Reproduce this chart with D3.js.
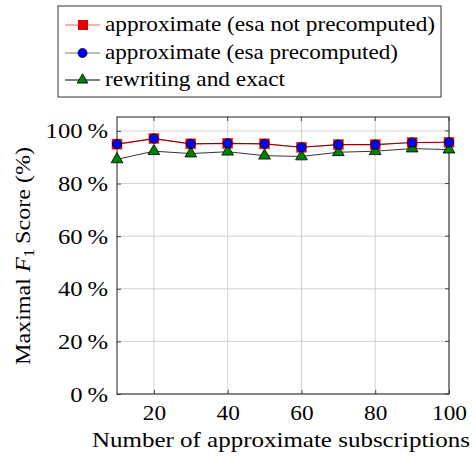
<!DOCTYPE html>
<html><head><meta charset="utf-8">
<script src="https://cdn.jsdelivr.net/npm/d3@7"></script>
<style>body{margin:0;background:#fff}svg{display:block}text{font-family:"Liberation Serif","DejaVu Serif",serif;fill:#000}</style>
</head><body><div id="c"></div>
<script>
const xs = [10,20,30,40,50,60,70,80,90,100];
const notPre = [95.0,97.1,95.1,95.3,95.1,93.8,94.8,94.8,95.6,95.7];
const pre = [95.0,97.1,95.1,95.3,95.1,93.8,94.8,94.8,95.6,95.7];
const exact = [89.2,92.3,91.4,92.1,90.6,90.3,91.9,92.3,93.3,92.9];
const xTicks = [20,40,60,80,100];
const yTicks = [0,20,40,60,80,100];
const seriesNames = ["approximate (esa not precomputed)","approximate (esa precomputed)","rewriting and exact"];

const W=476,H=458;
const FONT='"Liberation Serif",serif';
const svg=d3.select("#c").append("svg").attr("width",W).attr("height",H);
const L=117,R=449,T=117,B=394;
const x=d3.scaleLinear().domain([10,100]).range([L,R]);
const y=d3.scaleLinear().domain([0,105.3]).range([B,T]);

function stretch(sel,k){sel.each(function(){const w=this.getComputedTextLength();d3.select(this).attr("textLength",w*k).attr("lengthAdjust","spacingAndGlyphs");});}
function fitTo(sel,target){sel.each(function(){d3.select(this).attr("textLength",target).attr("lengthAdjust","spacingAndGlyphs");});}

// grid
svg.append("g").selectAll("line").data(xTicks).join("line")
 .attr("x1",d=>x(d)).attr("x2",d=>x(d)).attr("y1",T).attr("y2",B)
 .attr("stroke","#c8c8c8").attr("stroke-width",0.8);
svg.append("g").selectAll("line").data(yTicks).join("line")
 .attr("x1",L).attr("x2",R).attr("y1",d=>y(d)).attr("y2",d=>y(d))
 .attr("stroke","#c8c8c8").attr("stroke-width",0.8);

// axes
const ax=svg.append("g").attr("transform",`translate(0,${B})`).call(d3.axisBottom(x).tickValues(xTicks).tickSize(-4).tickPadding(10).tickFormat(d3.format("d")));
const ay=svg.append("g").attr("transform",`translate(${L},0)`).call(d3.axisLeft(y).tickValues(yTicks).tickSize(-4).tickPadding(9).tickFormat(d=>d+"\u2009%"));
[ax,ay].forEach(g=>{g.attr("font-family",FONT).attr("font-size",22);g.select(".domain").remove();g.selectAll("line").attr("stroke","#444");g.selectAll("text").attr("fill","#000");});
stretch(ax.selectAll("text"),1.06);
stretch(ay.selectAll("text"),1.12);
// top ticks / right ticks
svg.append("g").selectAll("line").data(xTicks).join("line").attr("x1",d=>x(d)).attr("x2",d=>x(d)).attr("y1",T).attr("y2",T+4).attr("stroke","#444");
svg.append("g").selectAll("line").data(yTicks).join("line").attr("x1",R).attr("x2",R-4).attr("y1",d=>y(d)).attr("y2",d=>y(d)).attr("stroke","#444");
svg.append("rect").attr("x",L).attr("y",T).attr("width",R-L).attr("height",B-T).attr("fill","none").attr("stroke","#333").attr("stroke-width",1.1);

const line=d3.line().x((d,i)=>x(xs[i])).y(d=>y(d));
svg.append("path").datum(notPre).attr("d",line).attr("fill","none").attr("stroke","#e00").attr("stroke-width",1.2);
svg.append("g").selectAll("rect").data(notPre).join("rect")
 .attr("x",(d,i)=>x(xs[i])-5).attr("y",d=>y(d)-5).attr("width",10).attr("height",10)
 .attr("fill","#e00000").attr("stroke","#ff3030").attr("stroke-width",0.6);
svg.append("path").datum(exact).attr("d",line).attr("fill","none").attr("stroke","#000").attr("stroke-width",0.8);
const tri=d3.symbol().type(d3.symbolTriangle).size(60);
svg.append("g").selectAll("path").data(exact).join("path")
 .attr("d",tri).attr("transform",(d,i)=>`translate(${x(xs[i])},${y(d)})`)
 .attr("fill","#008000").attr("stroke","#000").attr("stroke-width",0.8);
svg.append("path").datum(pre).attr("d",line).attr("fill","none").attr("stroke","#000").attr("stroke-width",0.6).attr("opacity",0.7);
svg.append("g").selectAll("circle").data(pre).join("circle")
 .attr("cx",(d,i)=>x(xs[i])).attr("cy",d=>y(d)).attr("r",4.6)
 .attr("fill","#0000ff").attr("stroke","#000").attr("stroke-width",0.8);

// axis titles
const xl=svg.append("text").attr("x",92).attr("y",447).attr("font-family",FONT).attr("font-size",21).text("Number of approximate subscriptions");
fitTo(xl,378);
const yl=svg.append("text").attr("transform","translate(30,365) rotate(-90)").attr("font-family",FONT).attr("font-size",21);
yl.append("tspan").text("Maximal ");
yl.append("tspan").attr("font-style","italic").text("F");
yl.append("tspan").attr("dy",4).attr("font-size",15).text("1");
yl.append("tspan").attr("dy",-4).text("\u2009Score (%)");
fitTo(yl,218);

// legend
const lg=svg.append("g");
lg.append("rect").attr("x",58).attr("y",6).attr("width",383).attr("height",91).attr("fill","#fff").attr("stroke","#333").attr("stroke-width",1);
const rows=[25,53,80];
const lw=[330,293,180];
const lc=["#ff6060","#777","#000"];
rows.forEach((ry,i)=>{
  lg.append("line").attr("x1",65).attr("x2",100).attr("y1",ry).attr("y2",ry).attr("stroke",lc[i]).attr("stroke-width",1);
  if(i===0) lg.append("rect").attr("x",78).attr("y",ry-5).attr("width",10).attr("height",10).attr("fill","#e00000");
  if(i===1) lg.append("circle").attr("cx",82.5).attr("cy",ry).attr("r",4.5).attr("fill","#0000ff").attr("stroke","#000").attr("stroke-width",0.8);
  if(i===2) lg.append("path").attr("d",d3.symbol().type(d3.symbolTriangle).size(50)).attr("transform",`translate(82.5,${ry})`).attr("fill","#008000").attr("stroke","#000").attr("stroke-width",0.8);
  const t=lg.append("text").attr("x",105).attr("y",ry+6).attr("font-family",FONT).attr("font-size",21).text(seriesNames[i]);
  fitTo(t,lw[i]);
});
</script></body></html>
